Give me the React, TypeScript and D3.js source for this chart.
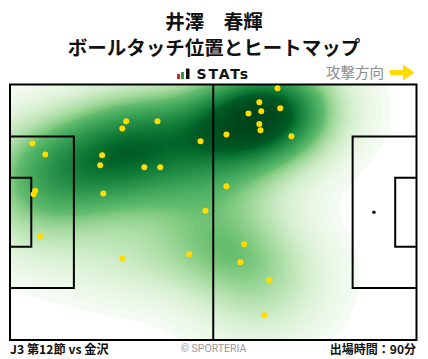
import React from "react";
import * as d3 from "d3";

const PITCH_LENGTH = 105;
const PITCH_WIDTH = 68;

// ball touch positions (metres from left goal line, metres from top touchline)
const touchX = [30.0, 38.1, 29.0, 49.2, 5.8, 9.1, 23.8, 23.3, 34.7, 38.8, 6.5, 6.1, 24.1, 50.5, 69.1, 64.4, 69.8, 61.6, 64.9, 64.4, 64.7, 55.9, 72.7, 55.9, 7.8, 29.0, 46.3, 60.5, 59.5, 67.0, 65.7];
const touchY = [9.8, 9.8, 11.7, 15.1, 15.7, 18.6, 18.8, 21.5, 22.0, 22.0, 28.3, 29.2, 29.0, 33.6, 1.0, 4.7, 6.3, 7.7, 7.1, 10.5, 12.2, 13.3, 13.8, 27.1, 40.4, 46.3, 45.2, 42.5, 47.3, 52.1, 61.4];

const titleLines = ["井澤　春輝", "ボールタッチ位置とヒートマップ"];
const directionLabel = "攻撃方向";
const matchLabel = "J3 第12節 vs 金沢";
const creditLabel = "© SPORTERIA";
const minutesLabel = "出場時間：90分";

const W = 428;
const H = 359;
const FX0 = 10;
const FX1 = 416.5;
const FY0 = 84.5;
const FY1 = 340;
const N_LEVELS = 70;
const THRESH = 0.025;
const BW_ADJUST = 1.0;
const GRID = 200;

function buildKde() {
  const n = touchX.length;
  const mx = d3.mean(touchX)!;
  const my = d3.mean(touchY)!;
  let cxx = 0, cyy = 0, cxy = 0;
  for (let i = 0; i < n; i++) {
    const dx = touchX[i] - mx, dy = touchY[i] - my;
    cxx += dx * dx; cyy += dy * dy; cxy += dx * dy;
  }
  cxx /= n - 1; cyy /= n - 1; cxy /= n - 1;
  const f = Math.pow(n, -1 / 6) * BW_ADJUST;
  const a = cxx * f * f, d = cyy * f * f, b = cxy * f * f;
  const det = a * d - b * b;
  const ia = d / det, id = a / det, ib = -b / det;
  const bwx = Math.sqrt(cxx) * f, bwy = Math.sqrt(cyy) * f;
  const cut = 3;
  const gx0 = d3.min(touchX)! - cut * bwx, gx1 = d3.max(touchX)! + cut * bwx;
  const gy0 = d3.min(touchY)! - cut * bwy, gy1 = d3.max(touchY)! + cut * bwy;
  const sx = (gx1 - gx0) / (GRID - 1), sy = (gy1 - gy0) / (GRID - 1);
  const values = new Float64Array(GRID * GRID);
  for (let j = 0; j < GRID; j++) {
    const y = gy0 + j * sy;
    for (let i = 0; i < GRID; i++) {
      const x = gx0 + i * sx;
      let s = 0;
      for (let k = 0; k < n; k++) {
        const dx = x - touchX[k], dy = y - touchY[k];
        s += Math.exp(-0.5 * (ia * dx * dx + 2 * ib * dx * dy + id * dy * dy));
      }
      values[j * GRID + i] = s;
    }
  }
  const sorted = Array.from(values).sort((p, q) => q - p);
  const total = d3.sum(sorted);
  const cum: number[] = [];
  let acc = 0;
  for (const v of sorted) { acc += v; cum.push(acc / total); }
  const levels: number[] = [];
  for (let k = 0; k < N_LEVELS; k++) {
    const q = THRESH + (1 - THRESH) * k / (N_LEVELS - 1);
    let idx = d3.bisectLeft(cum, 1 - q);
    if (idx >= sorted.length) idx = sorted.length - 1;
    levels.push(sorted[idx]);
  }
  levels.sort((p, q) => p - q);
  return { values, levels, gx0, gy0, sx, sy };
}

export default function App() {
  const xs = d3.scaleLinear().domain([0, PITCH_LENGTH]).range([FX0, FX1]);
  const ys = d3.scaleLinear().domain([0, PITCH_WIDTH]).range([FY0, FY1]);

  const kde = React.useMemo(buildKde, []);
  const contours = d3.contours().size([GRID, GRID]).thresholds(kde.levels.slice(0, -1))(Array.from(kde.values));
  const nBands = contours.length;
  const color = (i: number) => d3.interpolateGreens(0.02 + 0.98 * Math.pow(i / (nBands - 1), 0.85));
  const path = d3.geoPath();
  const pxPerGx = xs(kde.sx) - xs(0);
  const pxPerGy = ys(kde.sy) - ys(0);
  const tx = xs(kde.gx0) - 0.5 * pxPerGx;
  const ty = ys(kde.gy0) - 0.5 * pxPerGy;

  const pa = { d: 16.5, w: 40.32 };
  const ga = { d: 5.5, w: 18.32 };
  const cy = PITCH_WIDTH / 2;
  const lineW = 2;
  const jp = "'Noto Sans CJK JP', 'Noto Sans', sans-serif";

  return (
    <svg width={W} height={H} style={{ position: "absolute", left: 0, top: 0, background: "#fff" }}>
      <defs>
        <clipPath id="field">
          <rect x={FX0} y={FY0} width={FX1 - FX0} height={FY1 - FY0} />
        </clipPath>
      </defs>
      <rect x={0} y={0} width={W} height={H} fill="#fff" />
      <text x={214} y={29} textAnchor="middle" fontFamily={jp} fontWeight={700} fontSize={19.5} fill="#111">{titleLines[0]}</text>
      <text x={214} y={54.5} textAnchor="middle" fontFamily={jp} fontWeight={700} fontSize={19.5} fill="#111">{titleLines[1]}</text>

      {/* STATs logo */}
      <rect x={177} y={74} width={3} height={5} fill="#e5202a" />
      <rect x={181} y={72} width={3} height={7} fill="#2ca04a" />
      <rect x={186} y={68.5} width={3.5} height={10.5} fill="#111" />
      <text x={196.5} y={79} fontFamily="'DejaVu Sans', sans-serif" fontWeight={700} fontSize={14} letterSpacing={1.8} fill="#111">STATs</text>

      <text x={384} y={77.5} textAnchor="end" fontFamily={jp} fontSize={14.5} fill="#8c8c8c">{directionLabel}</text>
      <path d="M390,70 L403,70 L403,64.5 L414.5,72.5 L403,80.5 L403,75 L390,75 Z" fill="#ffdc00" />

      {/* field */}
      <rect x={FX0} y={FY0} width={FX1 - FX0} height={FY1 - FY0} fill="#fff" />
      <circle cx={xs(11)} cy={ys(cy)} r={1.8} fill="#111" />
      <circle cx={xs(PITCH_LENGTH - 11)} cy={ys(cy)} r={1.8} fill="#111" />
      <g clipPath="url(#field)">
        <g transform={`translate(${tx},${ty}) scale(${pxPerGx},${pxPerGy})`}>
          {contours.map((c, i) => (
            <path key={i} d={path(c as any) || ""} fill={color(i)} stroke="none" />
          ))}
        </g>
      </g>
      <g fill="none" stroke="#000" strokeWidth={lineW}>
        <rect x={FX0} y={FY0} width={FX1 - FX0} height={FY1 - FY0} />
        <line x1={xs(PITCH_LENGTH / 2)} x2={xs(PITCH_LENGTH / 2)} y1={FY0} y2={FY1} />
        <polyline points={`${xs(0)},${ys(cy - pa.w / 2)} ${xs(pa.d)},${ys(cy - pa.w / 2)} ${xs(pa.d)},${ys(cy + pa.w / 2)} ${xs(0)},${ys(cy + pa.w / 2)}`} />
        <polyline points={`${xs(0)},${ys(cy - ga.w / 2)} ${xs(ga.d)},${ys(cy - ga.w / 2)} ${xs(ga.d)},${ys(cy + ga.w / 2)} ${xs(0)},${ys(cy + ga.w / 2)}`} />
        <polyline points={`${xs(PITCH_LENGTH)},${ys(cy - pa.w / 2)} ${xs(PITCH_LENGTH - pa.d)},${ys(cy - pa.w / 2)} ${xs(PITCH_LENGTH - pa.d)},${ys(cy + pa.w / 2)} ${xs(PITCH_LENGTH)},${ys(cy + pa.w / 2)}`} />
        <polyline points={`${xs(PITCH_LENGTH)},${ys(cy - ga.w / 2)} ${xs(PITCH_LENGTH - ga.d)},${ys(cy - ga.w / 2)} ${xs(PITCH_LENGTH - ga.d)},${ys(cy + ga.w / 2)} ${xs(PITCH_LENGTH)},${ys(cy + ga.w / 2)}`} />
      </g>
      <g fill="#ffdc00">
        {touchX.map((x, i) => (
          <circle key={i} cx={xs(x)} cy={ys(touchY[i])} r={3} />
        ))}
      </g>

      <text x={10} y={354} fontFamily={jp} fontWeight={700} fontSize={12.2} fill="#111">{matchLabel}</text>
      <text x={213.5} y={352} textAnchor="middle" fontFamily="'Roboto', 'Noto Sans', sans-serif" fontSize={10.5} fill="#999">{creditLabel}</text>
      <text x={416} y={354} textAnchor="end" fontFamily={jp} fontWeight={700} fontSize={12} fill="#111">{minutesLabel}</text>
    </svg>
  );
}
